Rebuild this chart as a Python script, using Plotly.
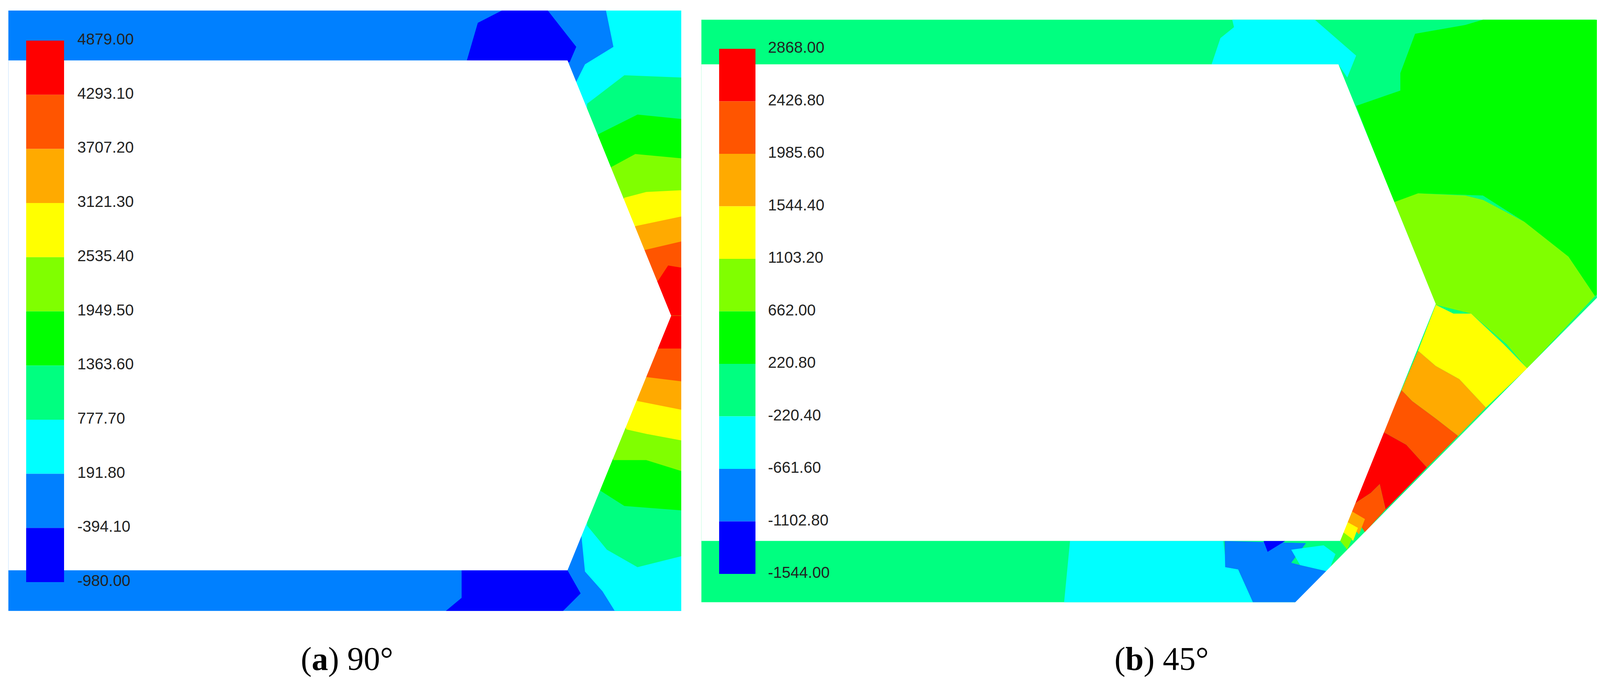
import plotly.graph_objects as go

# Contour band colours, top (max) to bottom (min)
band_colors = ['#FF0000', '#FF5500', '#FFAA00', '#FFFF00', '#80FF00',
               '#00FF00', '#00FF80', '#00FFFF', '#0080FF', '#0000FF']
labels_a = ['4879.00', '4293.10', '3707.20', '3121.30', '2535.40', '1949.50',
            '1363.60', '777.70', '191.80', '-394.10', '-980.00']
labels_b = ['2868.00', '2426.80', '1985.60', '1544.40', '1103.20', '662.00',
            '220.80', '-220.40', '-661.60', '-1102.80', '-1544.00']

# Panel (a) regions, traced in crop coordinates (scaled to page below)
a_outer = [(12, 17), (1550, 17), (1550, 1390), (12, 1390)]
a_hole = [(12, 131), (1290, 131), (1527, 715), (1290, 1297), (12, 1297)]
a_regions = [
    ('#0000FF', [(1060, 131), (1085, 45), (1140, 17), (1245, 17), (1310, 100), (1295, 135)]),
    ('#0000FF', [(1012, 1390), (1048, 1360), (1048, 1297), (1290, 1297), (1320, 1350), (1280, 1390)]),
    ('#00FFFF', [(1378, 17), (1395, 100), (1330, 140), (1310, 180), (1300, 715), (1550, 715), (1550, 17)]),
    ('#00FF80', [(1335, 230), (1420, 165), (1550, 170), (1550, 715), (1300, 715)]),
    ('#00FF00', [(1360, 300), (1450, 255), (1550, 265), (1550, 715), (1300, 715)]),
    ('#80FF00', [(1390, 375), (1445, 345), (1550, 355), (1550, 715), (1300, 715)]),
    ('#FFFF00', [(1420, 445), (1470, 432), (1550, 428), (1550, 715), (1300, 715)]),
    ('#FFAA00', [(1445, 510), (1550, 488), (1550, 715), (1300, 715)]),
    ('#FF5500', [(1465, 565), (1550, 545), (1550, 715), (1300, 715)]),
    ('#FF0000', [(1497, 635), (1520, 600), (1550, 605), (1550, 715), (1300, 715)]),
    ('#00FFFF', [(1320, 1200), (1330, 1300), (1370, 1345), (1398, 1390), (1550, 1390), (1550, 715), (1300, 715)]),
    ('#00FF80', [(1335, 1195), (1380, 1250), (1450, 1290), (1550, 1265), (1550, 715), (1300, 715)]),
    ('#00FF00', [(1365, 1115), (1420, 1150), (1550, 1160), (1550, 715), (1300, 715)]),
    ('#80FF00', [(1395, 1045), (1470, 1045), (1550, 1070), (1550, 715), (1300, 715)]),
    ('#FFFF00', [(1425, 975), (1470, 985), (1550, 1000), (1550, 715), (1300, 715)]),
    ('#FFAA00', [(1450, 910), (1550, 930), (1550, 715), (1300, 715)]),
    ('#FF5500', [(1468, 855), (1550, 865), (1550, 715), (1300, 715)]),
    ('#FF0000', [(1495, 790), (1550, 790), (1550, 715), (1300, 715)]),
]

# Panel (b) regions
b_outer = [(5, 38), (1552, 38), (1552, 635), (1012, 1370), (5, 1370)]
b_hole = [(5, 140), (1085, 140), (1250, 688), (1088, 1230), (5, 1230)]
b_cut = [(1012, 1370), (1552, 635), (1560, 635), (1560, 1380), (1000, 1380)]
b_regions = [
    ('#00FFFF', [(870, 140), (885, 80), (908, 55), (905, 38), (1045, 38), (1115, 120), (1100, 170), (1085, 140)]),
    ('#00FF00', [(1115, 235), (1190, 200), (1190, 160), (1215, 70), (1300, 50), (1330, 38), (1520, 38),
                 (1552, 45), (1552, 635), (1520, 670), (1475, 580), (1400, 500), (1330, 440), (1220, 435), (1180, 460)]),
    ('#80FF00', [(1180, 455), (1220, 435), (1300, 440), (1330, 450), (1400, 500), (1475, 580), (1520, 670),
                 (1405, 835), (1370, 780), (1310, 710), (1250, 690)]),
    ('#FFFF00', [(1250, 690), (1280, 710), (1310, 710), (1365, 780), (1405, 835), (1335, 925), (1290, 860),
                 (1250, 830), (1220, 795)]),
    ('#FFAA00', [(1220, 795), (1250, 830), (1290, 860), (1335, 925), (1288, 990), (1250, 950), (1210, 910), (1192, 885)]),
    ('#FF5500', [(1192, 885), (1210, 910), (1250, 950), (1288, 990), (1235, 1062), (1200, 1010), (1160, 980)]),
    ('#FF0000', [(1160, 980), (1200, 1010), (1235, 1062), (1165, 1158), (1155, 1100), (1140, 1120), (1112, 1145)]),
    ('#FF5500', [(1112, 1145), (1140, 1120), (1155, 1100), (1165, 1158), (1130, 1210), (1105, 1160)]),
    ('#FFAA00', [(1105, 1160), (1130, 1180), (1120, 1215), (1098, 1185)]),
    ('#FFFF00', [(1098, 1185), (1118, 1200), (1110, 1230), (1093, 1210)]),
    ('#80FF00', [(1093, 1210), (1108, 1225), (1100, 1250), (1088, 1230)]),
    ('#00FFFF', [(630, 1230), (890, 1230), (895, 1290), (915, 1295), (940, 1370), (620, 1370)]),
    ('#0080FF', [(892, 1230), (1030, 1235), (1005, 1280), (1020, 1285), (1068, 1300), (1012, 1370),
                 (940, 1370), (915, 1295), (893, 1290)]),
    ('#0000FF', [(958, 1230), (995, 1230), (965, 1255)]),
    ('#00FFFF', [(1005, 1250), (1060, 1240), (1080, 1260), (1068, 1300), (1020, 1285)]),
    ('#00FF80', [(1060, 1240), (1088, 1230), (1085, 1262)]),
]

fig = go.Figure()


def poly(pts, color, sx, sy, ox):
    xs = [ox + p[0] * sx for p in pts] + [ox + pts[0][0] * sx]
    ys = [p[1] * sy for p in pts] + [pts[0][1] * sy]
    fig.add_trace(go.Scatter(x=xs, y=ys, fill='toself', fillcolor=color, mode='lines',
                             line=dict(width=0, color=color), hoverinfo='skip', showlegend=False))


# panel (a)
sxa, sya, oxa = 1.12, 1.12, 0
poly(a_outer, '#0080FF', sxa, sya, oxa)
for c, pts in a_regions:
    poly(pts, c, sxa, sya, oxa)
poly(a_hole, '#FFFFFF', sxa, sya, oxa)

# panel (b)
sxb, syb, oxb = 1.51, 1.12, 1780
poly(b_outer, '#00FF80', sxb, syb, oxb)
for c, pts in b_regions:
    poly(pts, c, sxb, syb, oxb)
poly(b_cut, '#FFFFFF', sxb, syb, oxb)
poly(b_hole, '#FFFFFF', sxb, syb, oxb)


# colour bars and labels
def colorbar(x0, x1, y0, y1, labels, lx):
    n = len(band_colors)
    h = (y1 - y0) / n
    for i, c in enumerate(band_colors):
        fig.add_shape(type='rect', x0=x0, x1=x1, y0=y0 + i * h, y1=y0 + (i + 1) * h,
                      fillcolor=c, line=dict(width=0), layer='above')
    fig.add_trace(go.Scatter(x=[lx] * len(labels), y=[y0 + i * h for i in range(len(labels))],
                             mode='text', text=labels, textposition='middle right',
                             textfont=dict(family='Liberation Sans', size=40, color='#222'),
                             hoverinfo='skip', showlegend=False))


colorbar(59, 156, 96, 1483, labels_a, 190)
colorbar(1833, 1926, 117, 1462, labels_b, 1958)

for x, txt in [(880, '(<b>a</b>) 90°'), (2965, '(<b>b</b>) 45°')]:
    fig.add_annotation(x=x, y=1680, text=txt, showarrow=False,
                       font=dict(family='Liberation Serif', size=84, color='black'))

fig.update_layout(width=4149, height=1752, margin=dict(l=0, r=0, t=0, b=0),
                  plot_bgcolor='white', paper_bgcolor='white',
                  xaxis=dict(range=[0, 4149], visible=False, fixedrange=True),
                  yaxis=dict(range=[1752, 0], visible=False, fixedrange=True))
fig.write_html("out.html")
